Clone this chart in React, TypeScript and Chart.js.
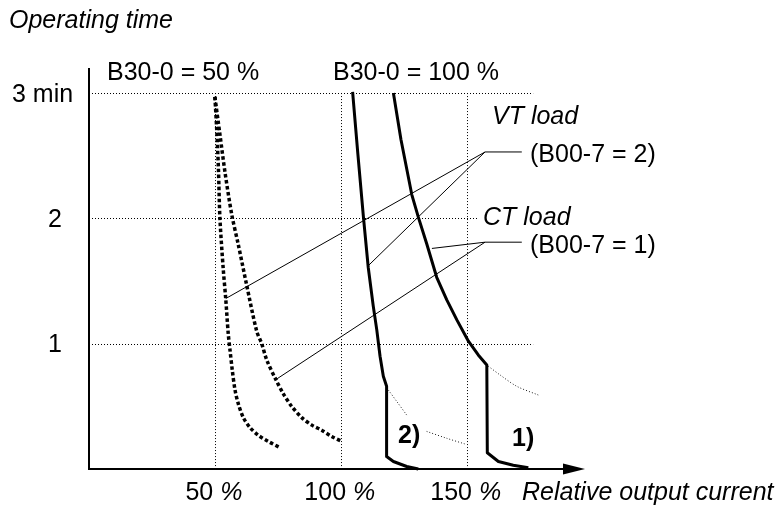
import { useEffect, useRef } from 'react';
import { Chart, registerables } from 'chart.js';

Chart.register(...registerables);

const FONT = '"Liberation Sans", Arial, Helvetica, sans-serif';
const FS = 25;

// ---- axis ranges / ticks ----
const X_MAX = 197;
const Y_MAX = 3.2;

const yTickValues = [1, 2, 3];
const yTickLabels = ['1', '2', '3 min'];
const xTickValues = [50, 100, 150];
const xTickLabels = ['50', '100', '150'];
const xUnit = '%';
const xTitle = 'Relative output current';
const yTitle = 'Operating time';

// horizontal grid lines and where they stop (in % of output current)
const gridYValues = [3, 2, 1];
const gridYEnds = [176.4, 154.5, 176.4];
const gridXTop = 3;

// ---- curves ----
// B30-0 = 50 %, VT load
const vt50X = [50.0, 50.7, 51.4, 52.0, 53.3, 54.3, 55.3, 56.0, 56.9, 58.0, 59.3, 61.3, 64.0, 67.2, 71.2, 75.9];
const vt50Y = [2.97, 2.72, 2.40, 2.00, 1.60, 1.36, 1.08, 0.95, 0.79, 0.63, 0.52, 0.41, 0.33, 0.27, 0.22, 0.17];
// B30-0 = 50 %, CT load
const ct50X = [50.0, 52.0, 54.0, 56.7, 59.3, 62.6, 66.6, 68.6, 70.6, 74.3, 77.2, 80.5, 84.5, 88.5, 92.4, 96.4, 100.4];
const ct50Y = [2.97, 2.67, 2.37, 2.03, 1.79, 1.47, 1.10, 1.00, 0.87, 0.71, 0.60, 0.50, 0.41, 0.35, 0.31, 0.26, 0.22];
// B30-0 = 100 %, VT load (2)
const vt100X = [104.7, 106.8, 109.0, 110.9, 112.9, 114.3, 115.6, 116.9, 118.2, 118.2, 120.9, 126.2, 130.8];
const vt100Y = [3.01, 2.51, 2.01, 1.61, 1.30, 1.11, 0.90, 0.74, 0.66, 0.10, 0.06, 0.02, 0.0];
// B30-0 = 100 %, CT load (1)
const ct100X = [120.9, 123.9, 128.2, 130.8, 134.1, 138.1, 142.1, 146.1, 150.7, 154.6, 158.0, 158.2, 162.6, 168.5, 174.5];
const ct100Y = [3.00, 2.63, 2.19, 2.01, 1.80, 1.53, 1.35, 1.19, 1.02, 0.91, 0.83, 0.13, 0.06, 0.03, 0.01];
// thin dotted continuations
const vt100TailAX = [118.9, 122.2, 126.2];
const vt100TailAY = [0.63, 0.54, 0.43];
const vt100TailBX = [134.1, 142.1, 149.3];
const vt100TailBY = [0.30, 0.245, 0.20];
const ct100TailX = [158.6, 163.3, 169.9, 178.5];
const ct100TailY = [0.82, 0.75, 0.66, 0.59];

// leader lines
const vtLeaderX = [54.3, 157.3, 110.8];
const vtLeaderY = [1.36, 2.53, 1.62];
const vtBracketX = [157.3, 171.9];
const vtBracketY = [2.53, 2.53];
const ctLeaderX = [74.7, 157.3, 136.2];
const ctLeaderY = [0.72, 1.81, 1.76];
const ctBracketX = [157.3, 171.9];
const ctBracketY = [1.81, 1.81];

// ---- annotation texts ----
const noteTexts = ['B30-0 = 50 %', 'B30-0 = 100 %', 'VT load', '(B00-7 = 2)', 'CT load', '(B00-7 = 1)', '2)', '1)'];
const notePlacement = [
  { x: 107, y: 80, font: `${FS}px ${FONT}` },
  { x: 333, y: 80, font: `${FS}px ${FONT}` },
  { x: 492, y: 124, font: `italic ${FS}px ${FONT}` },
  { x: 530, y: 162, font: `${FS}px ${FONT}` },
  { x: 483, y: 225, font: `italic ${FS}px ${FONT}` },
  { x: 530, y: 253, font: `${FS}px ${FONT}` },
  { x: 398, y: 443, font: `bold ${FS}px ${FONT}` },
  { x: 512, y: 446, font: `bold ${FS}px ${FONT}` },
];

const pts = (xs: number[], ys: number[]) => xs.map((x, i) => ({ x, y: ys[i] }));

const decorPlugin = {
  id: 'decor',
  beforeDatasetsDraw(chart: any) {
    const { ctx, scales } = chart;
    const x = scales.x;
    const y = scales.y;
    ctx.save();
    ctx.strokeStyle = '#000';
    ctx.lineWidth = 1;
    ctx.setLineDash([1, 2]);
    gridYValues.forEach((v, i) => {
      const py = Math.round(y.getPixelForValue(v)) + 0.5;
      ctx.beginPath();
      ctx.moveTo(x.getPixelForValue(0), py);
      ctx.lineTo(x.getPixelForValue(gridYEnds[i]), py);
      ctx.stroke();
    });
    xTickValues.forEach((v) => {
      const px = Math.round(x.getPixelForValue(v)) + 0.5;
      ctx.beginPath();
      ctx.moveTo(px, y.getPixelForValue(gridXTop));
      ctx.lineTo(px, y.getPixelForValue(0));
      ctx.stroke();
    });
    ctx.restore();
  },
  afterDatasetsDraw(chart: any) {
    const { ctx, scales, chartArea } = chart;
    const x = scales.x;
    const y = scales.y;
    const x0 = x.getPixelForValue(0);
    const y0 = y.getPixelForValue(0);
    ctx.save();
    // axes
    ctx.strokeStyle = '#000';
    ctx.fillStyle = '#000';
    ctx.setLineDash([]);
    ctx.lineWidth = 2;
    ctx.beginPath();
    ctx.moveTo(x0, chartArea.top);
    ctx.lineTo(x0, y0 + 1);
    ctx.stroke();
    ctx.beginPath();
    ctx.moveTo(x0 - 1, y0);
    ctx.lineTo(chartArea.right - 18, y0);
    ctx.stroke();
    ctx.beginPath();
    ctx.moveTo(chartArea.right, y0);
    ctx.lineTo(chartArea.right - 22, y0 - 5.5);
    ctx.lineTo(chartArea.right - 22, y0 + 5.5);
    ctx.closePath();
    ctx.fill();

    ctx.textBaseline = 'alphabetic';
    // y title
    ctx.font = `italic ${FS}px ${FONT}`;
    ctx.textAlign = 'left';
    ctx.fillText(yTitle, 9, 28);
    // y tick labels
    ctx.font = `${FS}px ${FONT}`;
    yTickValues.forEach((v, i) => {
      const py = y.getPixelForValue(v);
      const lbl = yTickLabels[i];
      if (lbl.length > 2) {
        ctx.textAlign = 'left';
        ctx.fillText(lbl, 12, py + 8.5);
      } else {
        ctx.textAlign = 'center';
        ctx.fillText(lbl, 55, py + 8.5);
      }
    });
    // x tick labels: number upright, unit italic
    xTickValues.forEach((v, i) => {
      const px = x.getPixelForValue(v) - 1;
      ctx.font = `${FS}px ${FONT}`;
      const num = xTickLabels[i] + ' ';
      const wn = ctx.measureText(num).width;
      ctx.font = `italic ${FS}px ${FONT}`;
      const wu = ctx.measureText(xUnit).width;
      const left = px - (wn + wu) / 2;
      ctx.textAlign = 'left';
      ctx.font = `${FS}px ${FONT}`;
      ctx.fillText(num, left, y0 + 31);
      ctx.font = `italic ${FS}px ${FONT}`;
      ctx.fillText(xUnit, left + wn, y0 + 31);
    });
    // x title
    ctx.font = `italic ${FS}px ${FONT}`;
    ctx.textAlign = 'left';
    ctx.fillText(xTitle, 522, y0 + 31);
    // notes
    noteTexts.forEach((t, i) => {
      const p = notePlacement[i];
      ctx.font = p.font;
      ctx.fillText(t, p.x, p.y);
    });
    ctx.restore();
  },
};

export default function App() {
  const ref = useRef<HTMLCanvasElement | null>(null);
  useEffect(() => {
    if (!ref.current) return;
    const thickDots = { borderColor: '#000', borderWidth: 3.5, borderDash: [3.5, 2.5], borderCapStyle: 'butt', tension: 0.3, pointRadius: 0, fill: false };
    const solid = { borderColor: '#000', borderWidth: 3, tension: 0, pointRadius: 0, fill: false, borderJoinStyle: 'round' };
    const thinDots = { borderColor: '#222', borderWidth: 1, borderDash: [1, 2], tension: 0.3, pointRadius: 0, fill: false };
    const leader = { borderColor: '#000', borderWidth: 1, tension: 0, pointRadius: 0, fill: false };
    const chart = new Chart(ref.current, {
      type: 'line',
      data: {
        datasets: [
          { label: 'VT 50', data: pts(vt50X, vt50Y), ...thickDots },
          { label: 'CT 50', data: pts(ct50X, ct50Y), ...thickDots },
          { label: 'VT 100', data: pts(vt100X, vt100Y), ...solid },
          { label: 'CT 100', data: pts(ct100X, ct100Y), ...solid },
          { label: 'VT tail a', data: pts(vt100TailAX, vt100TailAY), ...thinDots },
          { label: 'VT tail b', data: pts(vt100TailBX, vt100TailBY), ...thinDots },
          { label: 'CT tail', data: pts(ct100TailX, ct100TailY), ...thinDots },
          { label: 'VT leader', data: pts(vtLeaderX, vtLeaderY), ...leader },
          { label: 'VT bracket', data: pts(vtBracketX, vtBracketY), ...leader },
          { label: 'CT leader', data: pts(ctLeaderX, ctLeaderY), ...leader },
          { label: 'CT bracket', data: pts(ctBracketX, ctBracketY), ...leader },
        ] as any,
      },
      options: {
        animation: false,
        responsive: false,
        maintainAspectRatio: false,
        layout: { padding: { left: 89, top: 68, right: 194, bottom: 37 } },
        plugins: { legend: { display: false }, tooltip: { enabled: false }, title: { display: false } },
        elements: { line: { capBezierPoints: false } },
        datasets: { line: { clip: false } } as any,
        scales: {
          x: { type: 'linear', min: 0, max: X_MAX, display: false },
          y: { type: 'linear', min: 0, max: Y_MAX, display: false },
        },
      },
      plugins: [decorPlugin],
    } as any);
    return () => chart.destroy();
  }, []);
  return (
    <div style={{ position: 'fixed', left: 0, top: 0, width: 779, height: 506, background: '#fff' }}>
      <canvas ref={ref} width={779} height={506} style={{ display: 'block' }} />
    </div>
  );
}
